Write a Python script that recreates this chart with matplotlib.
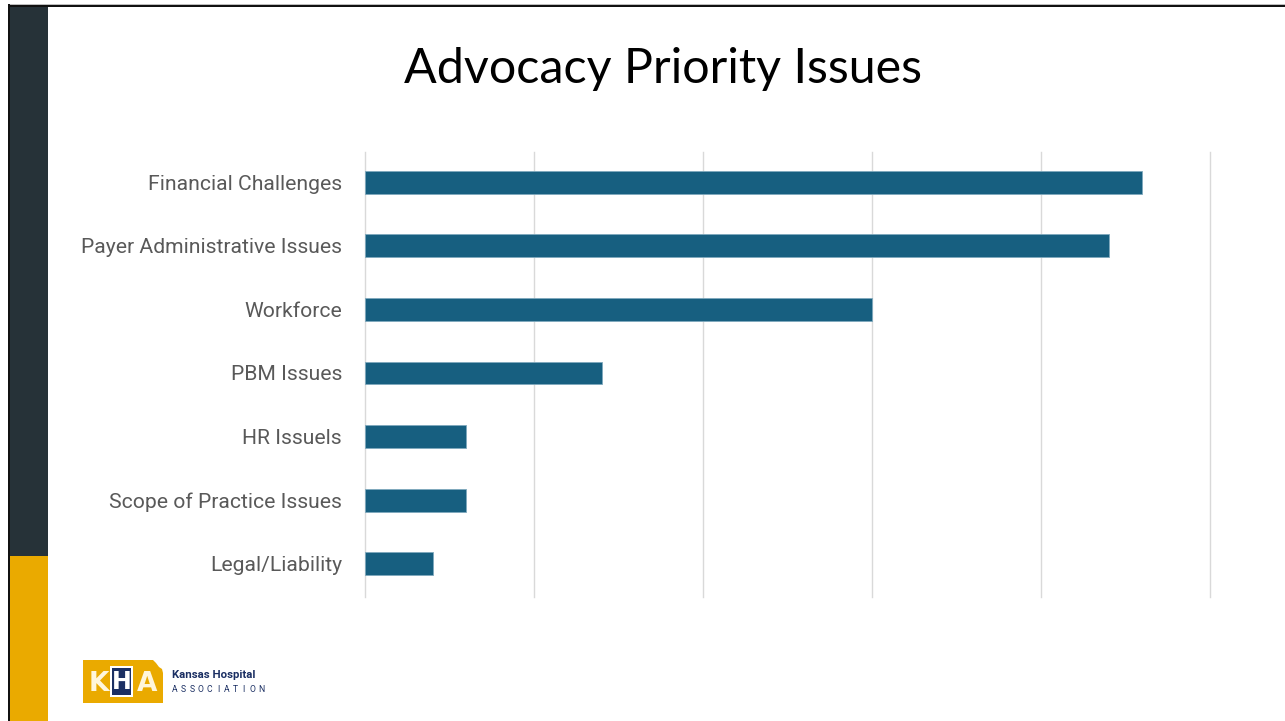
import matplotlib
matplotlib.use("Agg")
import matplotlib.pyplot as plt
from matplotlib.patches import Rectangle, Polygon
import numpy as np

W, H = 1285, 721

categories = [
    "Financial Challenges",
    "Payer Administrative Issues",
    "Workforce",
    "PBM Issues",
    "HR Issuels",
    "Scope of Practice Issues",
    "Legal/Liability",
]
values = [23, 22, 15, 7, 3, 3, 2]
x_max = 25
grid_step = 5

title = "Advocacy Priority Issues"
bar_color = "#175F80"
label_color = "#595959"
grid_color = "#D9D9D9"
slate = "#263238"
gold = "#EAAA00"
navy = "#1B2F63"

fig = plt.figure(figsize=(W / 100, H / 100), dpi=100)
fig.patch.set_facecolor("white")


def fx(px):
    return px / W


def fy(py):
    return 1 - py / H


def rect(x0, y0, x1, y1, color, z=1):
    fig.add_artist(Rectangle((fx(x0), fy(y1)), fx(x1) - fx(x0), fy(y0) - fy(y1),
                             transform=fig.transFigure, facecolor=color,
                             edgecolor="none", zorder=z))


# slide frame: side band and borders
rect(10, 7, 48, 556, slate)
rect(10, 556, 48, H, gold)
rect(8, 4, W, 7, "#BDBDBD", z=2)
rect(8, 5, W, 7, "#111111", z=3)
rect(8, 4, 10, H, "#111111", z=3)

# title
fig.text(fx(663), fy(69), title, ha="center", va="center",
         fontsize=34.8, family="Lato", color="black")

# chart
ax = fig.add_axes([fx(365), fy(597), fx(1210) - fx(365), fy(152) - fy(597)])
y = np.arange(len(categories))
ax.barh(y, values, height=0.36, color=bar_color, edgecolor="#7FA9BD",
        linewidth=0.6, zorder=3)
shift = 0.024
ax.set_ylim(len(categories) - 0.5 + shift, -0.5 + shift)
ax.set_xlim(0, x_max)
ax.set_xticks(np.arange(0, x_max + 1, grid_step))
ax.set_xticklabels([])
ax.tick_params(axis="x", length=0)
ax.tick_params(axis="y", length=0, pad=16.5)
ax.set_yticks(y)
ax.set_yticklabels(categories, fontsize=15.2, color=label_color, family="Roboto")
ax.grid(axis="x", color=grid_color, linewidth=1.0, zorder=0)
for gl in ax.get_xgridlines():
    gl.set_clip_on(False)
for s in ax.spines.values():
    s.set_visible(False)

# logo
kansas = [(83, 660), (153, 660), (156, 663), (159, 667), (162, 669), (163, 673),
          (163, 703), (83, 703)]
fig.add_artist(Polygon([(fx(a), fy(b)) for a, b in kansas], closed=True,
                       transform=fig.transFigure, facecolor=gold,
                       edgecolor="none", zorder=2))
fig.text(fx(99), fy(684), "K", ha="center", va="center", fontsize=19,
         fontweight="bold", color="#FFF6DC", family="DejaVu Sans", zorder=4)
rect(110, 666, 133, 697, "white", z=3)
rect(112, 668, 131, 695, navy, z=3)
fig.text(fx(121.5), fy(682), "H", ha="center", va="center", fontsize=17,
         fontweight="bold", color="white", family="DejaVu Sans", zorder=4)
fig.text(fx(147), fy(684), "A", ha="center", va="center", fontsize=19,
         fontweight="bold", color="#FFF6DC", family="DejaVu Sans", zorder=4)
fig.text(fx(172), fy(675), "Kansas Hospital", ha="left", va="center",
         fontsize=8.2, fontweight="bold", color=navy, family="Roboto")
assoc = "ASSOCIATION"
for i, ch in enumerate(assoc):
    fig.text(fx(175 + i * 8.6), fy(689), ch, ha="center", va="center",
             fontsize=6.2, color=navy, family="Roboto")

fig.savefig("out.png", dpi=100)
